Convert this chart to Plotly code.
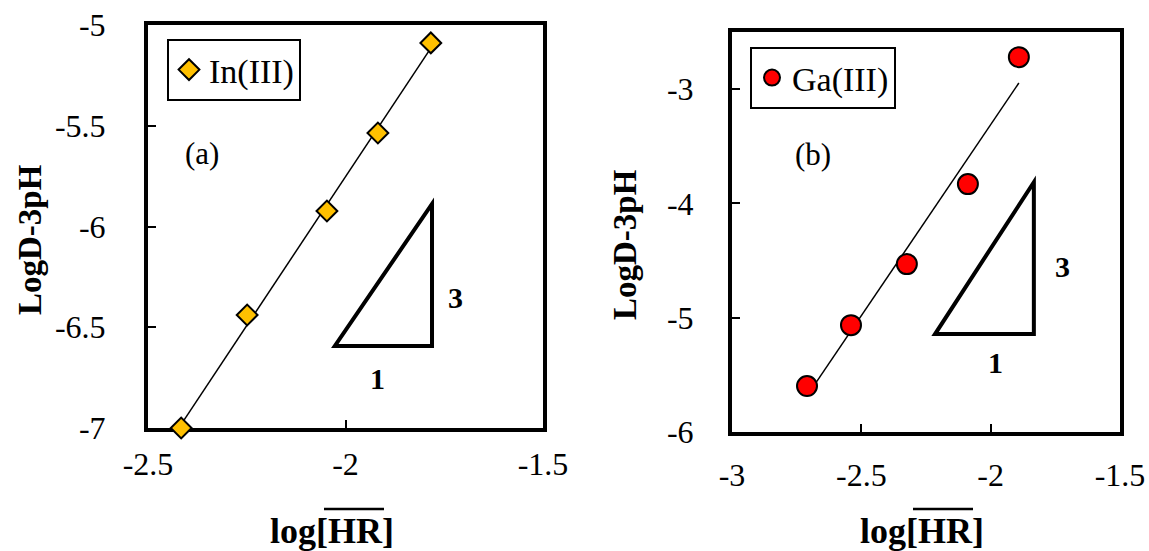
import numpy as np
import plotly.graph_objects as go

W, H = 1149, 551

# ---- data ----
in_logHR = [-2.416, -2.249, -2.047, -1.918, -1.784]
in_logD3pH = [-7.000, -6.439, -5.923, -5.536, -5.089]

ga_logHR = [-2.710, -2.540, -2.324, -2.088, -1.891]
ga_logD3pH = [-5.598, -5.065, -4.531, -3.831, -2.720]

x_ticks_a = [-2.5, -2.0, -1.5]
x_ticklabels_a = ["-2.5", "-2", "-1.5"]
y_ticks_a = [-7, -6.5, -6, -5.5, -5]
y_ticklabels_a = ["-7", "-6.5", "-6", "-5.5", "-5"]

x_ticks_b = [-3, -2.5, -2.0, -1.5]
x_ticklabels_b = ["-3", "-2.5", "-2", "-1.5"]
y_ticks_b = [-6, -5, -4, -3]
y_ticklabels_b = ["-6", "-5", "-4", "-3"]

# slope triangles (data units)
tri_a_x = [-2.027, -1.781, -1.781]
tri_a_y = [-6.593, -6.593, -5.888]
tri_b_x = [-2.215, -1.833, -1.833]
tri_b_y = [-5.143, -5.143, -3.814]

SERIF = "Liberation Serif"


def px(x):
    return x / W


def py(y):
    return 1 - y / H


def fitline(xs, ys):
    k, b = np.polyfit(xs, ys, 1)
    xx = np.array([min(xs), max(xs)])
    return xx, k * xx + b


fig = go.Figure()

fx, fy = fitline(in_logHR, in_logD3pH)
fig.add_trace(go.Scatter(x=fx, y=fy, mode="lines", line=dict(color="black", width=1.5),
                         showlegend=False, xaxis="x", yaxis="y", cliponaxis=False, hoverinfo="skip"))
fig.add_trace(go.Scatter(x=in_logHR, y=in_logD3pH, mode="markers", name="In(III)",
                         marker=dict(symbol="diamond", size=16, color="#FFC000",
                                     line=dict(color="black", width=2)),
                         xaxis="x", yaxis="y", cliponaxis=False, legend="legend"))

gx, gy = fitline(ga_logHR, ga_logD3pH)
fig.add_trace(go.Scatter(x=gx, y=gy, mode="lines", line=dict(color="black", width=1.5),
                         showlegend=False, xaxis="x2", yaxis="y2", cliponaxis=False, hoverinfo="skip"))
fig.add_trace(go.Scatter(x=ga_logHR, y=ga_logD3pH, mode="markers", name="Ga(III)",
                         marker=dict(symbol="circle", size=20, color="#FF0000",
                                     line=dict(color="black", width=2)),
                         xaxis="x2", yaxis="y2", cliponaxis=False, legend="legend2"))

axis_common = dict(showgrid=False, zeroline=False, showline=True, linecolor="black",
                   linewidth=4, mirror=True, ticks="inside", ticklen=8, tickwidth=2,
                   tickcolor="black", layer="below traces", automargin=False,
                   tickfont=dict(family=SERIF, size=32, color="black"))

fig.update_layout(
    width=W, height=H, autosize=False,
    margin=dict(l=0, r=0, t=0, b=0, pad=0, autoexpand=False),
    paper_bgcolor="white", plot_bgcolor="white",
    xaxis=dict(domain=[px(148), px(543)], range=[-2.5, -1.5], tickvals=x_ticks_a,
               ticktext=x_ticklabels_a, anchor="y", ticklabelstandoff=5, **axis_common),
    yaxis=dict(domain=[py(428), py(25)], range=[-7, -5], tickvals=y_ticks_a,
               ticktext=y_ticklabels_a, anchor="x", ticklabelstandoff=32, **axis_common),
    xaxis2=dict(domain=[px(732), px(1120)], range=[-3, -1.5], tickvals=x_ticks_b,
                ticktext=x_ticklabels_b, anchor="y2", ticklabelstandoff=12, **axis_common),
    yaxis2=dict(domain=[py(432), py(32)], range=[-6, -2.5], tickvals=y_ticks_b,
                ticktext=y_ticklabels_b, anchor="x2", ticklabelstandoff=28, **axis_common),
    legend=dict(x=px(167), y=py(39), xanchor="left", yanchor="top",
                bordercolor="black", borderwidth=2, bgcolor="white",
                font=dict(family=SERIF, size=34, color="black")),
    legend2=dict(x=px(750), y=py(47), xanchor="left", yanchor="top",
                 bordercolor="black", borderwidth=2, bgcolor="white",
                 font=dict(family=SERIF, size=34, color="black")),
)

shapes = []
for tx, ty, xr, yr in [(tri_a_x, tri_a_y, "x", "y"), (tri_b_x, tri_b_y, "x2", "y2")]:
    path = "M {},{} L {},{} L {},{} Z".format(tx[0], ty[0], tx[1], ty[1], tx[2], ty[2])
    shapes.append(dict(type="path", path=path, xref=xr, yref=yr,
                       line=dict(color="black", width=4), fillcolor="rgba(0,0,0,0)"))
# overline over "HR" in x-axis titles
for x0, x1 in [(324, 384), (913, 973)]:
    shapes.append(dict(type="line", xref="paper", yref="paper", x0=px(x0), x1=px(x1),
                       y0=py(509), y1=py(509), line=dict(color="black", width=2.5)))
fig.update_layout(shapes=shapes)

ann = []


def add_text(text, x, y, size, angle=0):
    ann.append(dict(text=text, x=px(x), y=py(y), xref="paper", yref="paper",
                    showarrow=False, xanchor="center", yanchor="middle", textangle=angle,
                    font=dict(family=SERIF, size=size, color="black")))


add_text("<b>LogD-3pH</b>", 30, 240, 33, -90)
add_text("<b>LogD-3pH</b>", 625, 245, 33, -90)
add_text("<b>log[HR]</b>", 332, 531, 36)
add_text("<b>log[HR]</b>", 922, 531, 36)
add_text("(a)", 202, 153, 31)
add_text("(b)", 813, 154, 31)
add_text("<b>3</b>", 455, 297, 30)
add_text("<b>1</b>", 377, 378, 30)
add_text("<b>3</b>", 1062, 266, 30)
add_text("<b>1</b>", 995, 362, 30)
fig.update_layout(annotations=ann)

fig.write_html("out.html", config={"responsive": False})
